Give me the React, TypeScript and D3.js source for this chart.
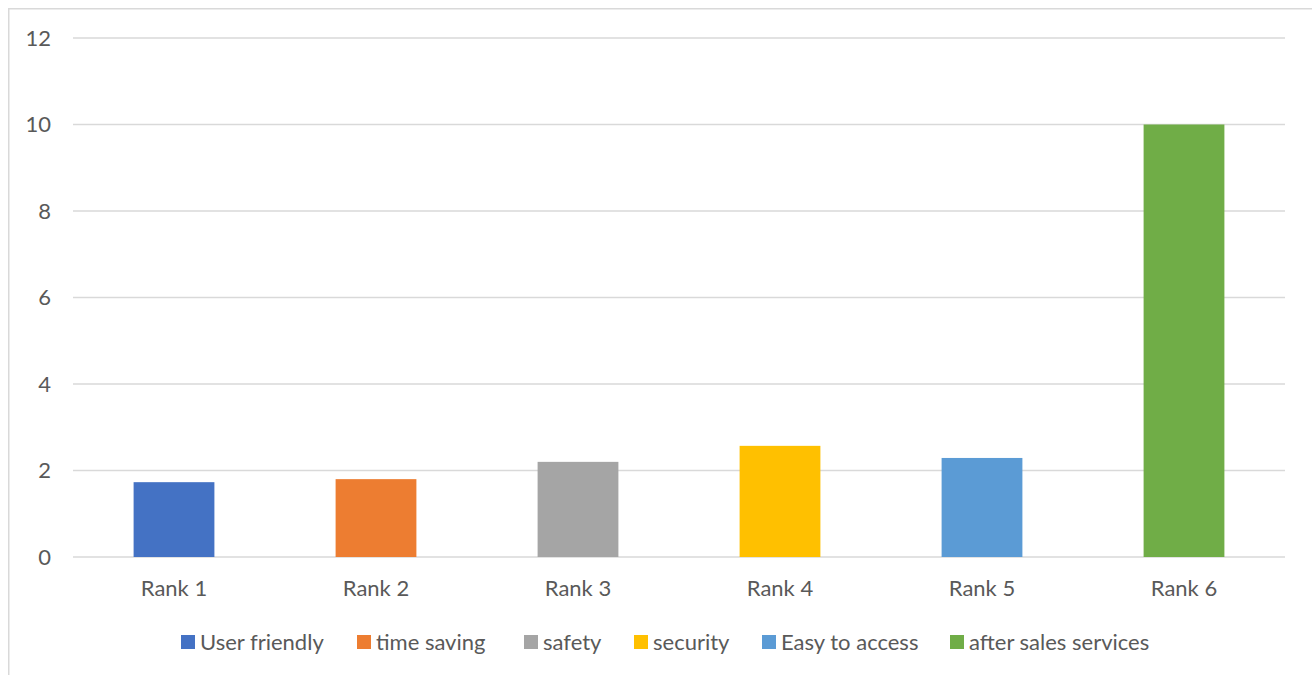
import React from "react";
import * as d3 from "d3";

const categories = ["Rank 1", "Rank 2", "Rank 3", "Rank 4", "Rank 5", "Rank 6"];
const seriesNames = ["User friendly", "time saving", "safety", "security", "Easy to access", "after sales services"];
const values = [1.73, 1.8, 2.2, 2.57, 2.29, 10.0];
const colors = ["#4472C4", "#ED7D31", "#A5A5A5", "#FFC000", "#5B9BD5", "#70AD47"];
const yTicks = [0, 2, 4, 6, 8, 10, 12];
const legendX = [181, 357, 524, 634, 762, 950];

const W = 1312;
const H = 675;
const FONT = "Lato, 'Open Sans', sans-serif";
const TXT = "#595959";

export default function App() {
  const x = d3.scaleBand<string>().domain(categories).range([73, 1285]).paddingInner(0.6).paddingOuter(0.3);
  const y = d3.scaleLinear().domain([0, 12]).range([557, 38]);
  return (
    <svg width={W} height={H} style={{ position: "absolute", left: 0, top: 0 }} fontFamily={FONT}>
      <rect x={0} y={0} width={W} height={H} fill="#fff" />
      <rect x={8.75} y={8.75} width={W + 20} height={H + 20} fill="#fff" stroke="#D9D9D9" strokeWidth={1.5} />
      {yTicks.map((t) => (
        <g key={t}>
          <line x1={73} x2={1285} y1={y(t)} y2={y(t)} stroke="#D9D9D9" strokeWidth={1.5} />
          <text x={51} y={y(t)} dy="0.35em" textAnchor="end" fontSize={22} fill={TXT}>{t}</text>
        </g>
      ))}
      {categories.map((c, i) => (
        <rect key={c} x={x(c)} width={x.bandwidth()} y={y(values[i])} height={y(0) - y(values[i])} fill={colors[i]} />
      ))}
      {categories.map((c) => (
        <text key={c} x={(x(c) as number) + x.bandwidth() / 2} y={596} textAnchor="middle" fontSize={22} fill={TXT}>{c}</text>
      ))}
      {seriesNames.map((s, i) => (
        <g key={s}>
          <rect x={legendX[i]} y={635} width={14} height={14} fill={colors[i]} />
          <text x={legendX[i] + 19} y={650} fontSize={22} fill={TXT}>{s}</text>
        </g>
      ))}
    </svg>
  );
}
